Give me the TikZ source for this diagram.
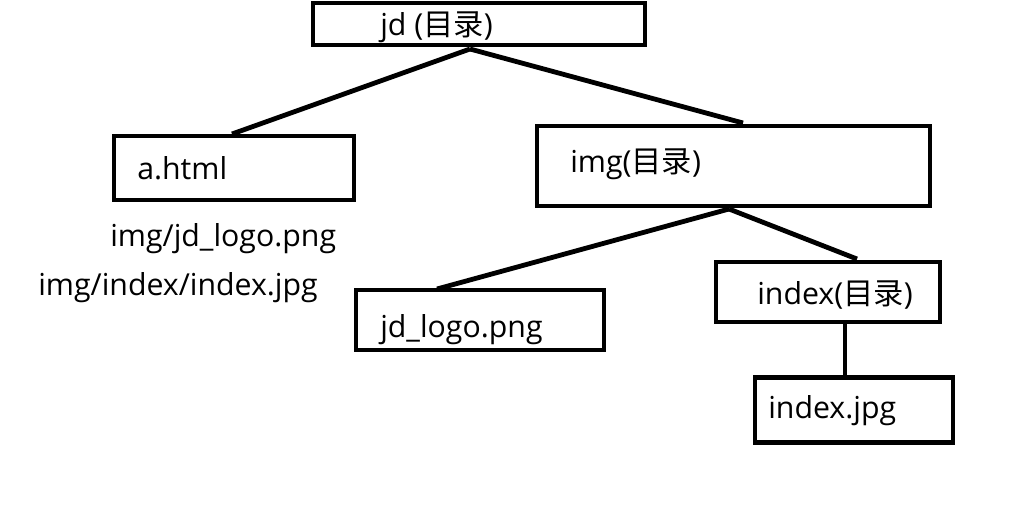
\documentclass[tikz,border=0pt]{standalone}
\usepackage{fontspec}
\setmainfont{Open Sans}
\newfontfamily\cjk{Noto Sans CJK SC}
\begin{document}
\begin{tikzpicture}[x=0.75pt,y=-0.75pt,
  box/.style={draw=black,line width=3.6pt,inner sep=0pt,minimum width=#1},
  conn/.style={line width=3.6pt},
  lbl/.style={anchor=base west,inner sep=0pt,font=\fontsize{22.7}{27}\selectfont}]
\useasboundingbox (0,0) rectangle (1018,521);
% boxes
\node[box=249pt,minimum height=31.5pt] (jd)    at (479,24)  {};
\node[box=180pt,minimum height=48pt]   (ahtml) at (234,168) {};
\node[box=294.75pt,minimum height=60pt] (img)  at (733.5,166) {};
\node[box=186pt,minimum height=45pt]   (logo)  at (480,320) {};
\node[box=168pt,minimum height=45pt]   (index) at (828,292) {};
\node[box=148.5pt,minimum height=48.75pt] (jpg) at (854,410) {};
% labels
\node[lbl] (jdt)    at (380,36)  {jd ({\cjk 目录})};
\node[lbl] (ahtmlt) at (137,179) {a.html};
\node[lbl] (imgt)   at (570,172) {img({\cjk 目录})};
\node[lbl] (logot)  at (380,337) {jd\_logo.png};
\node[lbl] (indext) at (757,304) {index({\cjk 目录})};
\node[lbl] (jpgt)   at (768,418) {index.jpg};
\node[lbl] (p1)     at (110,246) {img/jd\_logo.png};
\node[lbl] (p2)     at (38,295)  {img/index/index.jpg};
% connector points
\coordinate (jdb)  at (470,49);
\coordinate (ahtt) at (232,134);
\coordinate (imgtp) at (743,123);
\coordinate (imgb) at (729,209);
\coordinate (logotp) at (437,289);
\coordinate (indtp) at (857,259);
\draw[conn] (jdb) -- (ahtt);
\draw[conn] (jdb) -- (imgtp);
\draw[conn] (imgb) -- (logotp);
\draw[conn] (imgb) -- (indtp);
\draw[conn] (index.south -| 845,0) -- (jpg.north -| 845,0);
\end{tikzpicture}
\end{document}
